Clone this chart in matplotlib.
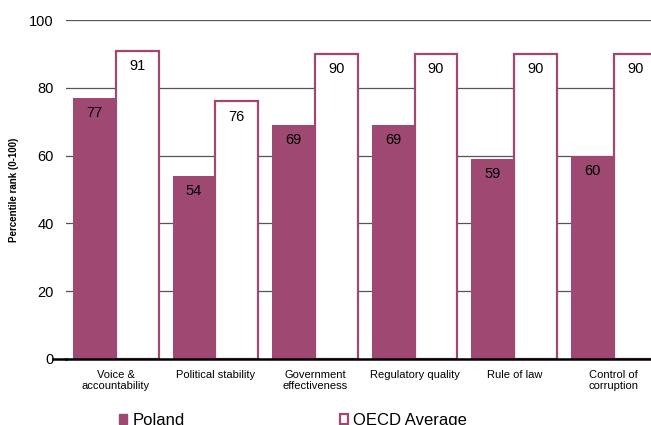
import matplotlib

matplotlib.use("Agg")
import matplotlib.pyplot as plt  # noqa: E402
import numpy as np  # noqa: E402
from matplotlib.patches import Patch  # noqa: E402

plt.rcParams["font.family"] = ["Liberation Sans", "DejaVu Sans"]

# Worldwide governance indicators, percentile rank (0-100)
categories = [
    "Voice &\naccountability",
    "Political stability",
    "Government\neffectiveness",
    "Regulatory quality",
    "Rule of law",
    "Control of\ncorruption",
]
poland = [77, 54, 69, 69, 59, 60]
oecd_avg = [91, 76, 90, 90, 90, 90]
yticks = [0, 20, 40, 60, 80, 100]

PLUM = "#9E4872"

fig = plt.figure(figsize=(6.51, 4.25), dpi=100)
# the plot area runs off the right edge of the figure on purpose
ax = fig.add_axes([66 / 651, 1 - 359 / 425, 597.6 / 651, 339 / 425])

x = np.arange(len(categories))
w = 0.43
ax.bar(x - w / 2, poland, width=w, color=PLUM, zorder=3)
ax.bar(x + w / 2, oecd_avg, width=w, color="white", edgecolor=PLUM,
       linewidth=1.6, zorder=3)

for xi, v in zip(x - w / 2, poland):
    ax.annotate(f"{v}", (xi, v), xytext=(0, -6), textcoords="offset points",
                ha="center", va="top", fontsize=10.5, zorder=4)
for xi, v in zip(x + w / 2, oecd_avg):
    ax.annotate(f"{v}", (xi, v), xytext=(0, -6), textcoords="offset points",
                ha="center", va="top", fontsize=10.5, zorder=4)

ax.set_xlim(-0.5, len(categories) - 0.5)
ax.set_ylim(0, 100)
ax.set_yticks(yticks)
ax.yaxis.grid(True, color="#555555", linewidth=0.9, zorder=0)
ax.set_axisbelow(True)
ax.tick_params(axis="y", length=0, pad=9, labelsize=10.5)
ax.set_xticks(x)
ax.set_xticklabels(categories, fontsize=8, linespacing=1.15)
ax.tick_params(axis="x", length=0, pad=8)

for side in ("left", "right", "top"):
    ax.spines[side].set_visible(False)
ax.spines["bottom"].set_linewidth(1.8)
ax.spines["bottom"].set_zorder(5)
ax.plot([-0.022, 0], [0, 0], transform=ax.transAxes, color="black",
        linewidth=1.8, clip_on=False)

ax.set_ylabel("Percentile rank (0-100)", fontsize=7, fontweight="bold")
ax.yaxis.set_label_coords(-0.078, 0.5)

handles = [
    Patch(facecolor=PLUM, edgecolor=PLUM, label="Poland"),
    Patch(facecolor="white", edgecolor=PLUM, linewidth=1.6, label="OECD Average"),
]
# legend sits low, partly below the bottom edge
fig.legend(handles=handles, loc="upper left", bbox_to_anchor=(119 / 651, 1 - 413 / 425),
           ncol=2, frameon=False, fontsize=12, handlelength=0.5, handleheight=0.6,
           handletextpad=0.3, columnspacing=9.3, borderpad=0, borderaxespad=0)

fig.savefig("out.png", dpi=100)
